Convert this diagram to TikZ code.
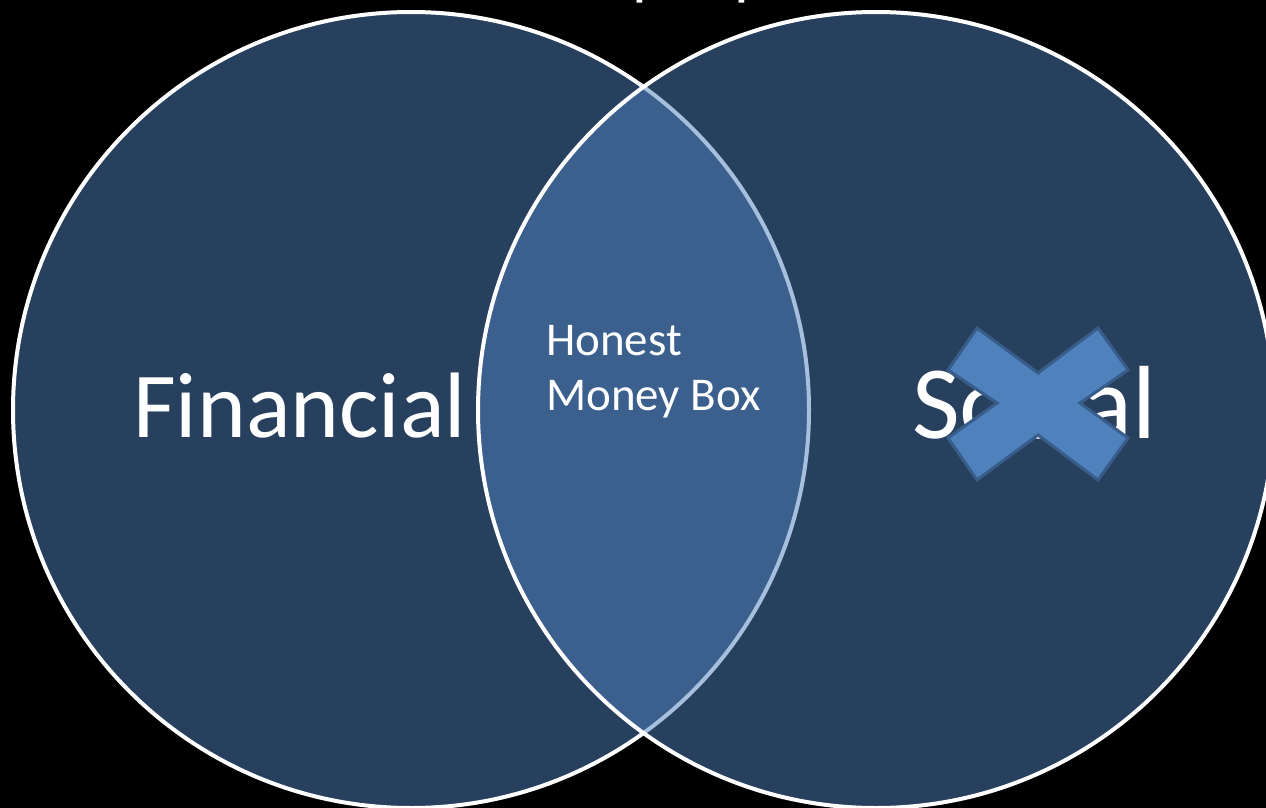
\documentclass[tikz,border=0pt]{standalone}
\usepackage{fontspec}
\setmainfont{Carlito}
\definecolor{accent}{HTML}{4F81BD}
\definecolor{accentdark}{HTML}{385D8A}
\begin{document}
\begin{tikzpicture}[x=1pt,y=-1pt,
  setcircle/.style={fill=accent, fill opacity=0.5, draw=white, line width=4pt},
  bigword/.style={text=white, inner sep=0pt, font=\fontsize{93}{100}\selectfont},
  midword/.style={text=white, inner sep=0pt, font=\fontsize{47}{55}\selectfont},
  titleword/.style={text=white, inner sep=0pt, font=\fontsize{66}{78}\selectfont},
  crossmark/.style={fill=accent, draw=accentdark, line width=3pt, line join=miter}]
  \clip (0,0) rectangle (1266,808);
  \fill[black] (0,0) rectangle (1266,808);

  % title line, mostly above the frame
  \node[titleword, anchor=base west] (title) at (632,-7) {people};

  % the two overlapping sets
  \coordinate (cl) at (411,410);
  \coordinate (cr) at (876,410);
  \path[setcircle] (cl) circle[radius=398];
  \path[setcircle] (cr) circle[radius=398];

  % labels
  \node[bigword, anchor=base west] (fin) at (133,437) {Financial};
  \node[bigword, anchor=base west, font=\fontsize{104}{110}\selectfont] (soc) at (912,438) {Social};
  \node[midword, anchor=base west] (hon1) at (546,355) {Honest};
  \node[midword, anchor=base west] (hon2) at (546,410) {Money Box};

  % cross over the social label
  \path[crossmark] (977,328) -- (1038,373) -- (1098,328) -- (1128,370)
    -- (1080,403) -- (1128,438) -- (1098,480) -- (1038,435)
    -- (977,480) -- (948,438) -- (997,403) -- (948,370) -- cycle;
\end{tikzpicture}
\end{document}
